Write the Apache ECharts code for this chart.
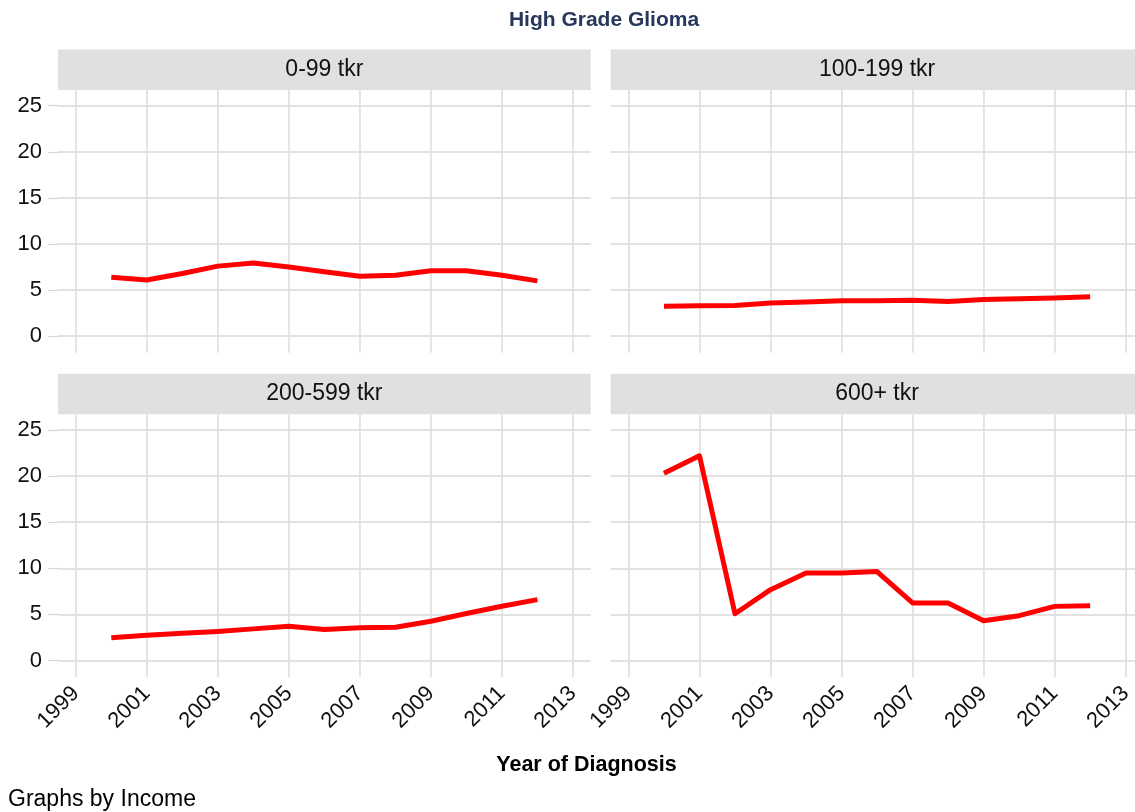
<!DOCTYPE html>
<html><head><meta charset="utf-8">
<script src="https://cdn.jsdelivr.net/npm/echarts@6/dist/echarts.min.js"></script>
<style>html,body{margin:0;padding:0;background:#fff}#c{width:1135px;height:812px}</style>
</head><body><div id="c"></div><script>
const chartTitle = 'High Grade Glioma';
const xTitle = 'Year of Diagnosis';
const caption = 'Graphs by Income';
const years = [2000, 2001, 2002, 2003, 2004, 2005, 2006, 2007, 2008, 2009, 2010, 2011, 2012];
const panelNames = ['0-99 tkr', '100-199 tkr', '200-599 tkr', '600+ tkr'];
const inc0_99 = [6.4, 6.1, 6.8, 7.6, 7.95, 7.5, 7.0, 6.5, 6.6, 7.1, 7.1, 6.6, 6.0];
const inc100_199 = [3.26, 3.3, 3.33, 3.6, 3.7, 3.84, 3.84, 3.9, 3.77, 3.98, 4.06, 4.13, 4.28];
const inc200_599 = [2.46, 2.75, 2.95, 3.15, 3.43, 3.71, 3.35, 3.54, 3.6, 4.25, 5.1, 5.88, 6.6];
const inc600 = [20.3, 22.2, 5.07, 7.68, 9.5, 9.5, 9.64, 6.24, 6.24, 4.32, 4.86, 5.87, 5.95];
const xTicks = [1999, 2001, 2003, 2005, 2007, 2009, 2011, 2013];
const yTicks = [0, 5, 10, 15, 20, 25];

const seriesValues = [inc0_99, inc100_199, inc200_599, inc600];
const FONT = '"Liberation Sans", Arial, Helvetica, sans-serif';
const GRID_COL = '#e2e2e2';
const PW = 532.7, PH = 262.8;
const lefts = [58, 610.7, 58, 610.7];
const tops = [90, 90, 414.3, 414.3];
const stripH = 40.5;

const chart = echarts.init(document.getElementById('c'), null, {renderer: 'canvas'});

const grid = [], xAxis = [], yAxis = [], series = [], graphic = [];
for (let i = 0; i < 4; i++) {
  const isLeft = i % 2 === 0, isBottom = i >= 2;
  grid.push({left: lefts[i], top: tops[i], width: PW, height: PH, containLabel: false, outerBoundsMode: 'none'});
  xAxis.push({
    type: 'value', gridIndex: i, min: 1998.5, max: 2013.5,
    axisLine: {show: false},
    axisTick: {show: false, customValues: xTicks},
    splitLine: {show: true, lineStyle: {color: GRID_COL, width: 1.8}},
    axisLabel: {show: isBottom, customValues: xTicks, rotate: 45, margin: 13,
      fontSize: 22, color: '#111', fontFamily: FONT, formatter: v => String(v)}
  });
  yAxis.push({
    type: 'value', gridIndex: i, min: -1.8, max: 26.7,
    axisLine: {show: false},
    axisTick: {show: isLeft, customValues: yTicks, length: 10, lineStyle: {color: '#d6d6d6', width: 1.2}},
    splitLine: {show: true, lineStyle: {color: GRID_COL, width: 1.8}},
    axisLabel: {show: isLeft, customValues: yTicks, margin: 16,
      fontSize: 22, color: '#111', fontFamily: FONT}
  });
  series.push({
    type: 'line', xAxisIndex: i, yAxisIndex: i, name: panelNames[i],
    data: years.map((y, k) => [y, seriesValues[i][k]]),
    symbol: 'none', silent: true,
    lineStyle: {color: '#ff0000', width: 5, join: 'round', cap: 'butt'}
  });
  graphic.push({
    type: 'rect', silent: true,
    shape: {x: lefts[i], y: tops[i] - stripH, width: PW, height: stripH},
    style: {fill: '#e0e0e0'}
  });
  graphic.push({
    type: 'text', silent: true,
    x: lefts[i] + PW / 2, y: tops[i] - stripH / 2,
    style: {text: panelNames[i], fill: '#111', font: '23px ' + FONT, align: 'center', verticalAlign: 'middle'}
  });
}
graphic.push({type: 'text', silent: true, x: 604, y: 20,
  style: {text: chartTitle, fill: '#27375c', font: 'bold 21px ' + FONT, align: 'center', verticalAlign: 'middle'}});
graphic.push({type: 'text', silent: true, x: 586.5, y: 765,
  style: {text: xTitle, fill: '#000', font: 'bold 21.5px ' + FONT, align: 'center', verticalAlign: 'middle'}});
graphic.push({type: 'text', silent: true, x: 8, y: 800,
  style: {text: caption, fill: '#000', font: '23px ' + FONT, align: 'left', verticalAlign: 'middle'}});

chart.setOption({
  animation: false,
  backgroundColor: '#ffffff',
  grid, xAxis, yAxis, series, graphic
});
</script></body></html>
